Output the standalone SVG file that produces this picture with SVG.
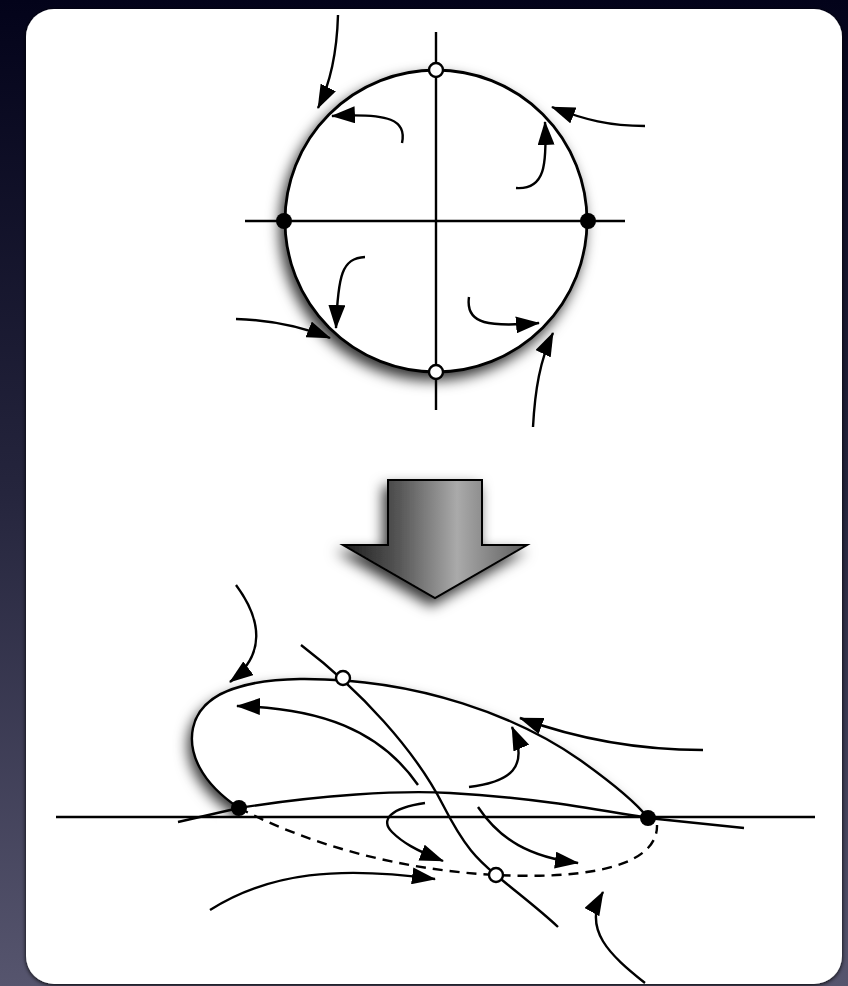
<svg xmlns="http://www.w3.org/2000/svg" width="848" height="986" viewBox="0 0 848 986">
  <defs>
    <linearGradient id="bg" x1="0" y1="0" x2="0" y2="1">
      <stop offset="0" stop-color="#03031a"/>
      <stop offset="0.5" stop-color="#25253d"/>
      <stop offset="1" stop-color="#56556e"/>
    </linearGradient>
    <linearGradient id="arrowGrad" gradientUnits="userSpaceOnUse" x1="343" y1="0" x2="527" y2="0">
      <stop offset="0" stop-color="#1c1c1c"/>
      <stop offset="0.3" stop-color="#555555"/>
      <stop offset="0.62" stop-color="#aaaaaa"/>
      <stop offset="1" stop-color="#5c5c5c"/>
    </linearGradient>
    <filter id="shadow" x="-20%" y="-20%" width="140%" height="150%">
      <feDropShadow dx="-4" dy="7" stdDeviation="7" flood-color="#000" flood-opacity="0.8"/>
    </filter>
    <filter id="panelShadow" x="-5%" y="-5%" width="110%" height="110%">
      <feDropShadow dx="0" dy="1" stdDeviation="2" flood-color="#000" flood-opacity="1"/>
    </filter>
    <marker id="ah" viewBox="0 0 24 17" refX="23" refY="8.5" markerWidth="24" markerHeight="17" markerUnits="userSpaceOnUse" orient="auto">
      <path d="M0,0 L24,8.5 L0,17 z" fill="#000"/>
    </marker>
    <style>
      .ln { fill: none; stroke: #000; stroke-width: 2.4; stroke-linecap: butt; }
      .arr { fill: none; stroke: #000; stroke-width: 2.4; marker-end: url(#ah); }
      .dash { fill: none; stroke: #000; stroke-width: 2.4; stroke-dasharray: 10 7; }
      .bdot { fill: #000; }
      .wdot { fill: #fff; stroke: #000; stroke-width: 2.4; }
    </style>
  </defs>

  <rect id="background" x="0" y="0" width="848" height="986" fill="url(#bg)"/>
  <rect id="panel" x="26" y="9" width="816" height="975" rx="28" ry="28" fill="#fff" filter="url(#panelShadow)"/>

  <!-- Top: circle -->
  <g id="circle-node">
    <circle cx="436" cy="221" r="151" fill="#fff" stroke="#000" stroke-width="2.8" filter="url(#shadow)"/>
    <line class="ln" x1="245" y1="221" x2="625" y2="221"/>
    <line class="ln" x1="436" y1="32" x2="436" y2="410"/>
  </g>
  <g id="circle-points">
    <circle class="bdot" cx="284" cy="221" r="8"/>
    <circle class="bdot" cx="588" cy="221" r="8"/>
    <circle class="wdot" cx="436" cy="70" r="7"/>
    <circle class="wdot" cx="436" cy="372" r="7"/>
  </g>

  <!-- Big arrow -->
  <g id="big-arrow">
    <path d="M388,480 L482,480 L482,545 L527,545 L435,598 L343,545 L388,545 Z" fill="url(#arrowGrad)" stroke="#000" stroke-width="2" stroke-linejoin="miter" filter="url(#shadow)"/>
  </g>

  <!-- Bottom: deformed loop -->
  <g id="loop-node">
    <path d="M239,808 C200,782 188,752 193,728 C200,695 240,680 300,679 C420,678 520,718 580,760 C615,785 638,805 648,818 L239,818 Z" fill="#fff" filter="url(#shadow)"/>
    <rect x="217" y="818" width="436" height="67" fill="#fff"/>
    <path class="ln" stroke-width="2.8" d="M239,808 C200,782 188,752 193,728 C200,695 240,680 300,679 C420,678 520,718 580,760 C615,785 638,805 648,818"/>
  </g>

  <g id="connectors">
    <!-- top figure trajectories -->
    <path class="arr" d="M338,15 C337,50 332,80 318,108"/>
    <path class="arr" d="M402,143 C407,120 390,113 332,116"/>
    <path class="arr" d="M645,126 C610,126 585,120 552,107"/>
    <path class="arr" d="M516,188 C545,190 547,165 545,122"/>
    <path class="arr" d="M365,257 C342,258 338,275 336,328"/>
    <path class="arr" d="M236,319 C270,320 300,326 330,338"/>
    <path class="arr" d="M469,297 C465,325 490,327 539,323"/>
    <path class="arr" d="M533,427 C535,390 540,360 553,333"/>

    <!-- bottom figure lines -->
    <line class="ln" x1="56" y1="817" x2="815" y2="817"/>
    <path class="ln" d="M178,822 L239,808 C320,795 400,790 450,793 C530,797 600,810 648,818 L744,828"/>
    <path class="ln" d="M301,645 C360,690 415,750 443,805 C465,848 478,860 496,875 C520,895 540,910 558,927"/>
    <path class="dash" d="M239,808 C310,845 400,870 496,875 C600,880 658,862 657,825"/>

    <!-- bottom figure trajectories -->
    <path class="arr" d="M236,585 C262,620 266,655 230,682"/>
    <path class="arr" d="M418,785 C380,730 320,708 237,706"/>
    <path class="arr" d="M425,803 C390,808 380,820 392,832 C402,842 415,850 443,861"/>
    <path class="arr" d="M210,910 C270,872 340,866 435,879"/>
    <path class="arr" d="M469,787 C510,782 530,768 512,727"/>
    <path class="arr" d="M703,750 C640,750 580,740 520,718"/>
    <path class="arr" d="M478,807 C500,840 530,857 578,863"/>
    <path class="arr" d="M645,983 C610,955 582,930 603,892"/>
  </g>

  <g id="loop-points">
    <circle class="bdot" cx="239" cy="808" r="8"/>
    <circle class="bdot" cx="648" cy="818" r="8"/>
    <circle class="wdot" cx="343" cy="678" r="7"/>
    <circle class="wdot" cx="496" cy="875" r="7"/>
  </g>
</svg>
